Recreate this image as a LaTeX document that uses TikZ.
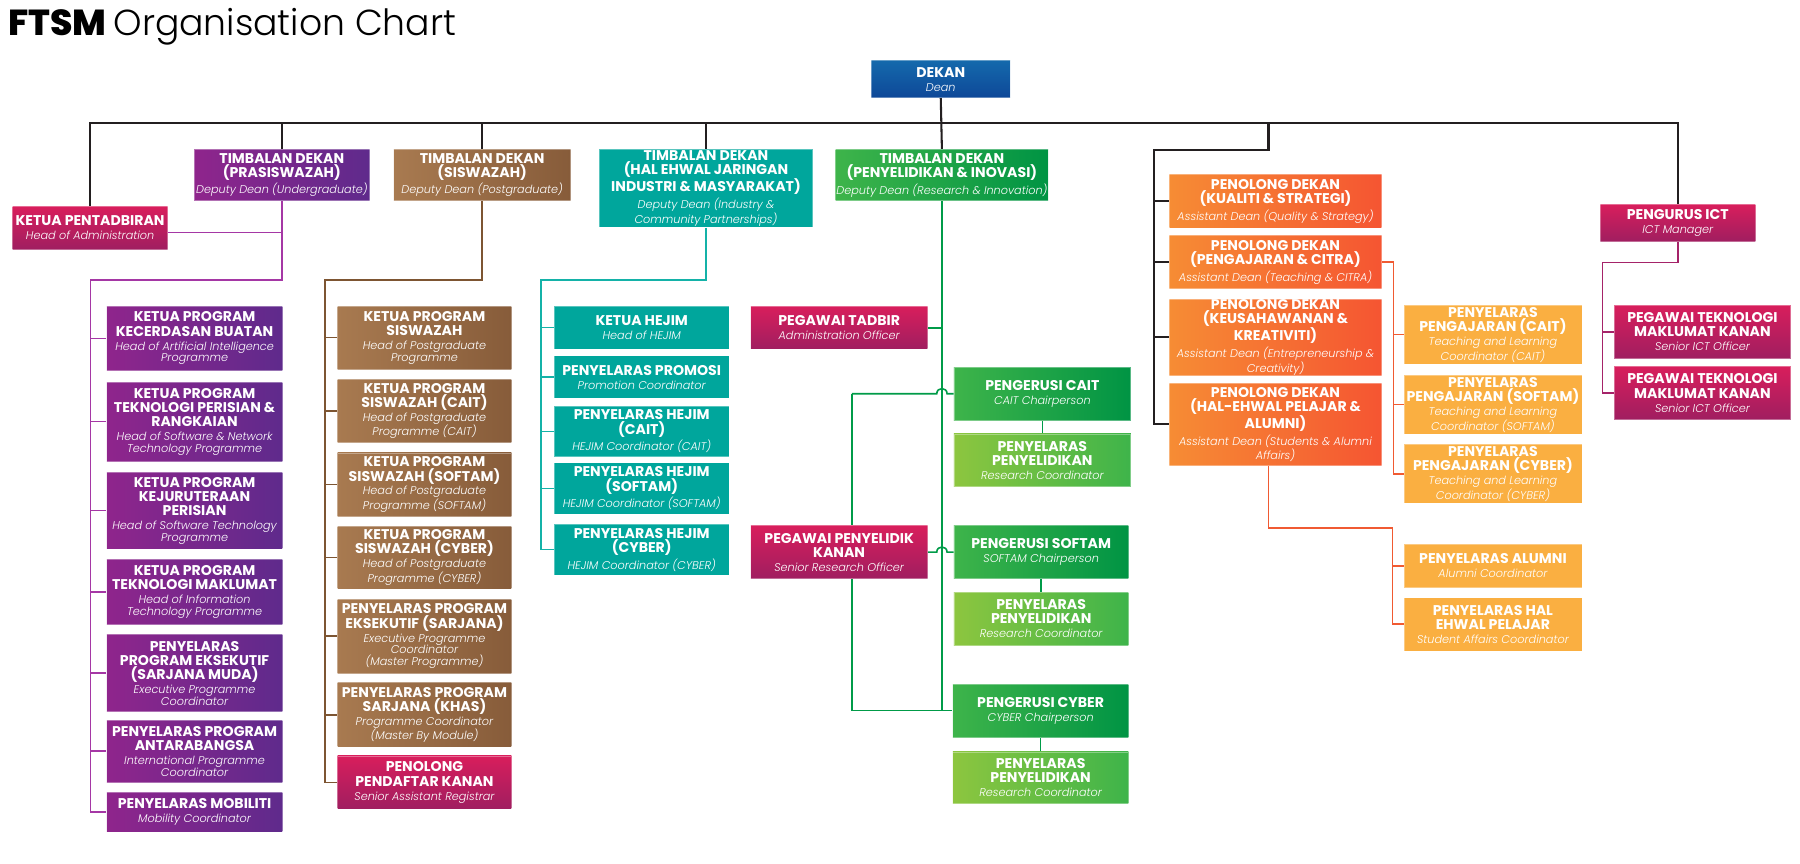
\documentclass[tikz,border=0pt]{standalone}
\usepackage{fontspec}
\setmainfont{Poppins}
\newfontface\ipop{Poppins Light Italic}
\newfontface\lpop{Poppins Light}
\newfontface\xpop{Poppins ExtraBold}
\usetikzlibrary{calc}
\pgfdeclarelayer{back}\pgfdeclarelayer{bg}\pgfsetlayers{back,bg,main}
\definecolor{purL}{RGB}{143,37,140}\definecolor{purR}{RGB}{95,42,140}
\definecolor{brnL}{RGB}{168,122,80}\definecolor{brnR}{RGB}{135,92,58}
\definecolor{tealc}{RGB}{0,166,156}
\definecolor{grnL}{RGB}{62,180,74}\definecolor{grnR}{RGB}{0,148,68}
\definecolor{lgrL}{RGB}{141,198,63}\definecolor{lgrR}{RGB}{62,180,74}
\definecolor{pnkT}{RGB}{216,30,92}\definecolor{pnkB}{RGB}{160,30,96}
\definecolor{orgL}{RGB}{246,140,52}\definecolor{orgR}{RGB}{245,85,50}
\definecolor{lorg}{RGB}{250,175,65}
\definecolor{bluT}{RGB}{20,105,172}\definecolor{bluB}{RGB}{14,72,152}
\definecolor{blkc}{RGB}{35,31,32}
\definecolor{purc}{RGB}{165,55,165}\definecolor{brnc}{RGB}{125,85,50}
\definecolor{teac}{RGB}{20,178,168}\definecolor{grnc}{RGB}{0,155,72}
\definecolor{orgc}{RGB}{240,90,50}\definecolor{magc}{RGB}{165,35,105}
\newcommand\bfnt{\fontsize{12.3}{12.4}\selectfont\bfseries}
\newcommand\ifnt{\fontsize{9.8}{10.3}\selectfont\ipop}
\newcommand\boxtxt[2]{\raisebox{-1.5pt}{\makebox[0pt]{\parbox{260pt}{\centering\bfnt #1\par\vspace{1.8pt}\ifnt #2\par}}}}
\newcommand\orgb[8]{%
  \pgfmathsetmacro\obw{#4-#3}\pgfmathsetmacro\obh{#6-#5}%
  \pgfmathsetmacro\obx{(#3+#4)/2}\pgfmathsetmacro\oby{(#5+#6)/2}%
  \node[#2,minimum width=\obw pt,minimum height=\obh pt] (#1) at (\obx,\oby) {\boxtxt{#7}{#8}};}
\tikzset{
  cell/.style={inner sep=0pt,text=white,draw=white,draw opacity=0.35,line width=0.7pt},
  purb/.style={cell,left color=purL,right color=purR},
  brnb/.style={cell,left color=brnL,right color=brnR},
  teab/.style={cell,fill=tealc},
  grnb/.style={cell,left color=grnL,right color=grnR},
  lgrb/.style={cell,left color=lgrL,right color=lgrR},
  pnkb/.style={cell,top color=pnkT,bottom color=pnkB},
  orgbx/.style={cell,left color=orgL,right color=orgR},
  lorb/.style={cell,fill=lorg},
  blub/.style={cell,top color=bluT,bottom color=bluB},
  blk/.style={line width=1.8pt,draw=blkc},
  pur/.style={line width=1.4pt,draw=purc},
  brn/.style={line width=1.4pt,draw=brnc},
  tea/.style={line width=1.4pt,draw=teac},
  grn/.style={line width=1.4pt,draw=grnc},
  orgl/.style={line width=1.4pt,draw=orgc},
  mag/.style={line width=1.4pt,draw=magc}
}
\begin{document}
\begin{tikzpicture}[x=1pt,y=-1pt]
\useasboundingbox (0,0) rectangle (1568,752.6);
\begin{pgfonlayer}{back}
\fill[white] (0,0) rectangle (1568,752.6);
\end{pgfonlayer}
\node[anchor=base west,inner sep=0pt,text=black] (title) at (7,30.5)
  {\fontsize{31.5}{31.5}\selectfont\xpop FTSM\ \lpop Organisation Chart};
% top level
\orgb{dekan}{blub}{759}{880}{53}{85}{DEKAN}{Dean}
\orgb{kp}{pnkb}{11}{146}{180}{217}{KETUA PENTADBIRAN}{Head of Administration}
\orgb{tdpra}{purb}{169}{322}{130}{175}{TIMBALAN DEKAN\\(PRASISWAZAH)}{Deputy Dean (Undergraduate)}
\orgb{tdsis}{brnb}{343}{497}{130}{175}{TIMBALAN DEKAN\\(SISWAZAH)}{Deputy Dean (Postgraduate)}
\orgb{tdhal}{teab}{522}{708}{130}{198}{TIMBALAN DEKAN\\(HAL EHWAL JARINGAN\\INDUSTRI \& MASYARAKAT)}{Deputy Dean (Industry \&\\Community Partnerships)}
\orgb{tdpen}{grnb}{728}{913}{130}{175}{TIMBALAN DEKAN\\(PENYELIDIKAN \& INOVASI)}{Deputy Dean (Research \& Innovation)}
% purple column
\orgb{p1}{purb}{93}{246}{266.6}{322.9}{KETUA PROGRAM\\KECERDASAN BUATAN}{Head of Artificial Intelligence\\Programme}
\orgb{p2}{purb}{93}{246}{332.8}{401.8}{KETUA PROGRAM\\TEKNOLOGI PERISIAN \&\\RANGKAIAN}{Head of Software \& Network\\Technology Programme}
\orgb{p3}{purb}{93}{246}{411.4}{478.2}{KETUA PROGRAM\\KEJURUTERAAN\\PERISIAN}{Head of Software Technology\\Programme}
\orgb{p4}{purb}{93}{246}{487.2}{543.8}{KETUA PROGRAM\\TEKNOLOGI MAKLUMAT}{Head of Information\\Technology Programme}
\orgb{p5}{purb}{93}{246}{553}{620}{PENYELARAS\\PROGRAM EKSEKUTIF\\(SARJANA MUDA)}{Executive Programme\\Coordinator}
\orgb{p6}{purb}{93}{246}{627.5}{681.2}{PENYELARAS PROGRAM\\ANTARABANGSA}{International Programme\\Coordinator}
\orgb{p7}{purb}{93}{246}{690}{724.7}{PENYELARAS MOBILITI}{Mobility Coordinator}
% brown column
\orgb{b1}{brnb}{294}{445.5}{266.6}{321.7}{KETUA PROGRAM\\SISWAZAH}{Head of Postgraduate\\Programme}
\orgb{b2}{brnb}{294}{445.5}{330.4}{385.6}{KETUA PROGRAM\\SISWAZAH (CAIT)}{Head of Postgraduate\\Programme (CAIT)}
\orgb{b3}{brnb}{294}{445.5}{394.6}{449.8}{KETUA PROGRAM\\SISWAZAH (SOFTAM)}{Head of Postgraduate\\Programme (SOFTAM)}
\orgb{b4}{brnb}{294}{445.5}{458.2}{513}{KETUA PROGRAM\\SISWAZAH (CYBER)}{Head of Postgraduate\\Programme (CYBER)}
\orgb{b5}{brnb}{294}{445.5}{522}{586.5}{PENYELARAS PROGRAM\\EKSEKUTIF (SARJANA)}{Executive Programme\\Coordinator\\(Master Programme)}
\orgb{b6}{brnb}{294}{445.5}{594.7}{650.7}{PENYELARAS PROGRAM\\SARJANA (KHAS)}{Programme Coordinator\\(Master By Module)}
\orgb{b7}{pnkb}{294}{445.5}{658.5}{704.7}{PENOLONG\\PENDAFTAR KANAN}{Senior Assistant Registrar}
% teal column
\orgb{t1}{teab}{483}{635}{266.5}{304}{KETUA HEJIM}{Head of HEJIM}
\orgb{t2}{teab}{483}{635}{310}{347}{PENYELARAS PROMOSI}{Promotion Coordinator}
\orgb{t3}{teab}{483}{635}{353.7}{397.8}{PENYELARAS HEJIM\\(CAIT)}{HEJIM Coordinator (CAIT)}
\orgb{t4}{teab}{483}{635}{403}{448}{PENYELARAS HEJIM\\(SOFTAM)}{HEJIM Coordinator (SOFTAM)}
\orgb{t5}{teab}{483}{635}{456.5}{501}{PENYELARAS HEJIM\\(CYBER)}{HEJIM Coordinator (CYBER)}
% research
\orgb{ptad}{pnkb}{654}{808}{267}{304}{PEGAWAI TADBIR}{Administration Officer}
\orgb{pps}{pnkb}{654}{808}{458}{504}{PEGAWAI PENYELIDIK\\KANAN}{Senior Research Officer}
\orgb{gc1}{grnb}{831}{985}{320}{366}{PENGERUSI CAIT}{CAIT Chairperson}
\orgb{gr1}{lgrb}{831}{985}{378}{424}{PENYELARAS\\PENYELIDIKAN}{Research Coordinator}
\orgb{gc2}{grnb}{831}{983}{458}{504}{PENGERUSI SOFTAM}{SOFTAM Chairperson}
\orgb{gr2}{lgrb}{831}{983}{516}{562}{PENYELARAS\\PENYELIDIKAN}{Research Coordinator}
\orgb{gc3}{grnb}{830}{983}{596}{642}{PENGERUSI CYBER}{CYBER Chairperson}
\orgb{gr3}{lgrb}{830}{983}{655}{700}{PENYELARAS\\PENYELIDIKAN}{Research Coordinator}
% assistant deans
\orgb{pd1}{orgbx}{1018.6}{1203.6}{152}{198.6}{PENOLONG DEKAN\\(KUALITI \& STRATEGI)}{Assistant Dean (Quality \& Strategy)}
\orgb{pd2}{orgbx}{1018.6}{1203.6}{205}{251.5}{PENOLONG DEKAN\\(PENGAJARAN \& CITRA)}{Assistant Dean (Teaching \& CITRA)}
\orgb{pd3}{orgbx}{1018.6}{1203.6}{260.7}{327}{PENOLONG DEKAN\\(KEUSAHAWANAN \&\\KREATIVITI)}{Assistant Dean (Entrepreneurship \&\\Creativity)}
\orgb{pd4}{orgbx}{1018.6}{1203.6}{334}{405.3}{PENOLONG DEKAN\\(HAL-EHWAL PELAJAR \&\\ALUMNI)}{Assistant Dean (Students \& Alumni\\Affairs)}
\orgb{tl1}{lorb}{1223}{1378}{266}{317}{PENYELARAS\\PENGAJARAN (CAIT)}{Teaching and Learning\\Coordinator (CAIT)}
\orgb{tl2}{lorb}{1223}{1378}{327}{378}{PENYELARAS\\PENGAJARAN (SOFTAM)}{Teaching and Learning\\Coordinator (SOFTAM)}
\orgb{tl3}{lorb}{1223}{1378}{387}{438.4}{PENYELARAS\\PENGAJARAN (CYBER)}{Teaching and Learning\\Coordinator (CYBER)}
\orgb{alum}{lorb}{1223}{1378}{474}{512}{PENYELARAS ALUMNI}{Alumni Coordinator}
\orgb{hep}{lorb}{1223}{1378}{520.6}{567}{PENYELARAS HAL\\EHWAL PELAJAR}{Student Affairs Coordinator}
% ICT
\orgb{ict}{pnkb}{1394}{1529}{178}{210.5}{PENGURUS ICT}{ICT Manager}
\orgb{pt1}{pnkb}{1406}{1560}{266}{312}{PEGAWAI TEKNOLOGI\\MAKLUMAT KANAN}{Senior ICT Officer}
\orgb{pt2}{pnkb}{1406}{1560}{319.4}{365.3}{PEGAWAI TEKNOLOGI\\MAKLUMAT KANAN}{Senior ICT Officer}
% connectors
\begin{pgfonlayer}{bg}
\coordinate (busY) at (0,107);
\draw[blk] (kp.north) -- (kp.north |- busY) -- (ict.north |- busY) -- (ict.north);
\draw[blk] (dekan.south) -- (tdpen.north);
\foreach \n in {tdpra,tdsis,tdhal} \draw[blk] (\n.north) -- (\n.north |- busY);
\coordinate (aTop) at (1105,107);
\coordinate (aT) at (1005,131);
\draw[blk] (aTop) |- (aT) |- (pd4.west);
\foreach \n in {pd1,pd2,pd3} \draw[blk] (aT |- \n.west) -- (\n.west);
% purple
\coordinate (pT) at (79,244);
\draw[pur] (tdpra.south) |- (pT) |- (p7.west);
\foreach \n in {p1,p2,p3,p4,p5,p6} \draw[pur] (pT |- \n.west) -- (\n.west);
\coordinate (kpE) at ([yshift=-4pt]kp.east);
\draw[pur] (kpE) -- (kpE -| tdpra.south);
% brown
\coordinate (bT) at (283,244);
\draw[brn] (tdsis.south) |- (bT) |- (b7.west);
\foreach \n in {b1,b2,b3,b4,b5,b6} \draw[brn] (bT |- \n.west) -- (\n.west);
% teal
\coordinate (tT) at (471,244);
\draw[tea] (tdhal.south) |- (tT) |- (t5.west);
\foreach \n in {t1,t2,t3,t4} \draw[tea] (tT |- \n.west) -- (\n.west);
% green
\draw[grn] (tdpen.south) |- (gc3.west);
\draw[grn] (ptad.east) -- (ptad.east -| tdpen.south);
\coordinate (gL) at (742,343);
\coordinate (h1) at (gc1.west -| tdpen.south);
\coordinate (h1a) at ($(h1)+(-4.5,0)$);
\coordinate (h1b) at ($(h1)+(4.5,0)$);
\draw[grn] (gc1.west -| gL) -- (h1a) .. controls +(0,-6) and +(0,-6) .. (h1b) -- (gc1.west);
\draw[grn] (gc1.west -| gL) -- (gL |- gc3.west) -- (gc3.west);
\coordinate (h2) at (pps.east -| tdpen.south);
\coordinate (h2a) at ($(h2)+(-4.5,0)$);
\coordinate (h2b) at ($(h2)+(4.5,0)$);
\draw[grn] (pps.east) -- (h2a) .. controls +(0,-6) and +(0,-6) .. (h2b) -- (gc2.west);
\draw[grn] (gc1.south) -- (gr1.north);
\draw[grn] (gc2.south) -- (gr2.north);
\draw[grn] (gc3.south) -- (gr3.north);
% orange
\coordinate (oX) at (1214,0);
\draw[orgl] (pd2.east) -- (pd2.east -| oX) |- (tl3.west);
\foreach \n in {tl1,tl2} \draw[orgl] (oX |- \n.west) -- (\n.west);
\coordinate (oY) at (1213,460);
\draw[orgl] (aTop |- pd4.south) |- (oY) |- (hep.west);
\draw[orgl] (oY |- alum.west) -- (alum.west);
% magenta
\coordinate (mT) at (1396,228.5);
\draw[mag] (ict.south) |- (mT) |- (pt2.west);
\draw[mag] (mT |- pt1.west) -- (pt1.west);
\end{pgfonlayer}
\end{tikzpicture}
\end{document}
